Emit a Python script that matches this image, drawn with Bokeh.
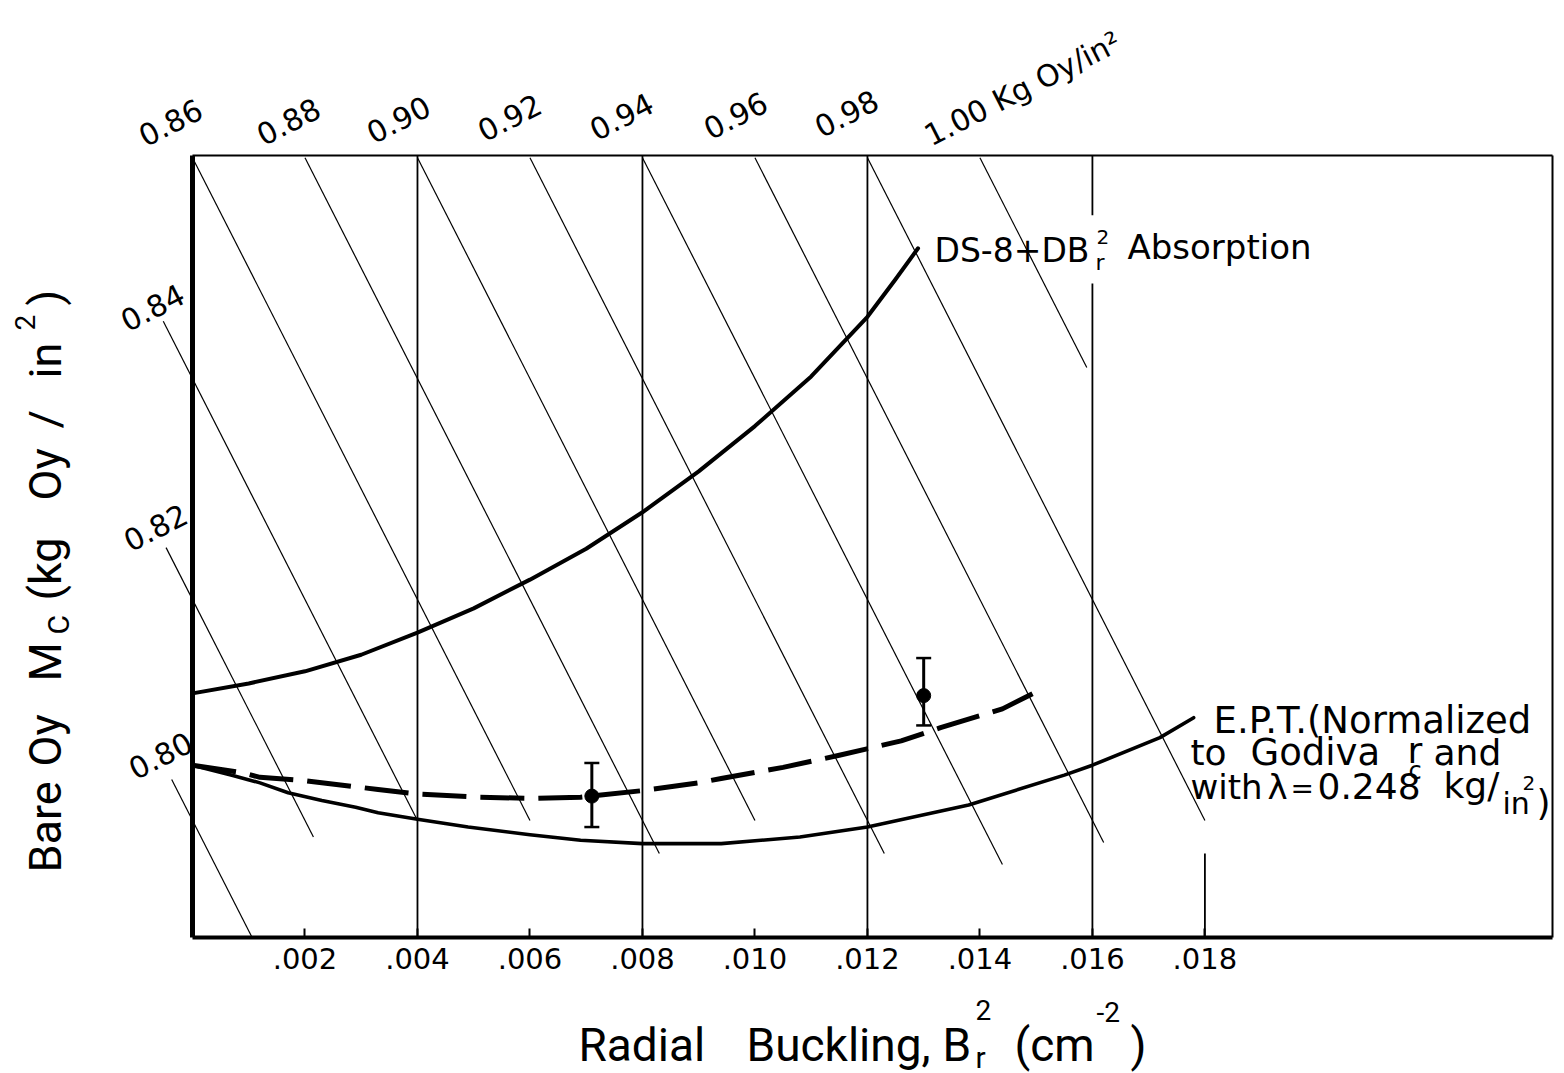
import math
from bokeh.plotting import figure
from bokeh.models import Range1d, Label, FixedTicker, Whisker, TeeHead, ColumnDataSource, LinearAxis
from bokeh.embed import file_html
from bokeh.resources import INLINE

# ---------------- data ----------------
# DS-8 + D B_r^2 absorption curve
ds8_x = [0.0, 0.001, 0.002, 0.003, 0.004, 0.005, 0.006, 0.007, 0.008, 0.009,
         0.010, 0.011, 0.012, 0.0125, 0.0129]
ds8_y = [0.8115, 0.8124, 0.8135, 0.8150, 0.8170, 0.8192, 0.8218, 0.8246, 0.8279,
         0.8316, 0.8357, 0.8402, 0.8456, 0.8490, 0.8518]

# E.P.T. curve (solid, lower)
ept_x = [0.0, 0.0007, 0.0012, 0.0017, 0.0023, 0.0029, 0.0033, 0.0040, 0.0049, 0.0060,
         0.0069, 0.0080, 0.0090, 0.0094, 0.0108, 0.0120, 0.0138, 0.0155, 0.0160,
         0.0172, 0.0178]
ept_y = [0.8050, 0.8041, 0.8034, 0.8025, 0.8018, 0.8012, 0.8007, 0.8001, 0.7994, 0.7987,
         0.7982, 0.7979, 0.7979, 0.7979, 0.7985, 0.7994, 0.8014, 0.8041, 0.8050,
         0.8075, 0.8093]

# dashed curve through the experimental points
exp_x = [0.0, 0.0009, 0.0012, 0.0020, 0.0033, 0.0040, 0.0051, 0.0060, 0.0069, 0.0080,
         0.0090, 0.0094, 0.0105, 0.0115, 0.0126, 0.0133, 0.0144, 0.0151]
exp_y = [0.8050, 0.8043, 0.8039, 0.8036, 0.8028, 0.8024, 0.8021, 0.8020, 0.8021, 0.8027,
         0.8034, 0.8038, 0.8048, 0.8059, 0.8072, 0.8084, 0.8101, 0.8119]

# experimental points with error bars
pts_x = [0.0071, 0.0130]
pts_y = [0.8022, 0.8113]
pts_hi = [0.8052, 0.8147]
pts_lo = [0.7994, 0.8086]

# lines of constant loading (kg Oy/in^2): start and end points
iso_labels = ["0.80", "0.82", "0.84", "0.86", "0.88", "0.90", "0.92", "0.94", "0.96", "0.98", "1.00"]
iso_x0 = [-0.00037, -0.00047, -0.00052, 0.0, 0.002, 0.004, 0.006, 0.008, 0.010, 0.012, 0.014]
iso_y0 = [0.8037, 0.8247, 0.8452, 0.8600, 0.8600, 0.8600, 0.8600, 0.8600, 0.8600, 0.8600, 0.8600]
iso_x1 = [0.00106, 0.00215, 0.0040, 0.0060, 0.0083, 0.0100, 0.0123, 0.0144, 0.0162, 0.0180, 0.0159]
iso_y1 = [0.7894, 0.7985, 0.8000, 0.8000, 0.7970, 0.8000, 0.7970, 0.7960, 0.7980, 0.8000, 0.8410]

# x ticks
tick_vals = [0.002, 0.004, 0.006, 0.008, 0.010, 0.012, 0.014, 0.016, 0.018]
tick_labels = [".002", ".004", ".006", ".008", ".010", ".012", ".014", ".016", ".018"]

# chart box (data extent of the drawn frame)
BX0, BX1 = 0.0, 0.02418
BY0, BY1 = 0.7894, 0.8602

# ---------------- layout ----------------
W, H = 1564, 1073
BOX_L, BOX_R, BOX_T, BOX_B = 192, 1552, 155, 937   # where the box sits on the canvas
sx = (BOX_R - BOX_L) / (BX1 - BX0)
sy = (BOX_B - BOX_T) / (BY1 - BY0)
X0 = BX0 - BOX_L / sx
X1 = BX0 + (W - BOX_L) / sx
Y1 = BY1 + BOX_T / sy
Y0 = BY1 - (H - BOX_T) / sy
FONT = "DejaVu Sans"
TFONT = "Roboto"

p = figure(width=W, height=H, x_range=Range1d(X0, X1), y_range=Range1d(Y0, Y1),
           output_backend="svg", toolbar_location=None,
           x_axis_location=None, y_axis_location=None,
           min_border_left=0, min_border_right=0, min_border_top=0, min_border_bottom=0)
p.outline_line_color = None
p.background_fill_color = "white"
p.border_fill_color = "white"
p.xgrid.visible = False
p.ygrid.visible = False

ax = LinearAxis(fixed_location=BY0)
ax.ticker = FixedTicker(ticks=tick_vals)
ax.major_label_overrides = {v: s for v, s in zip(tick_vals, tick_labels)}
ax.axis_line_color = None
ax.major_tick_in = 9
ax.major_tick_out = 0
ax.major_tick_line_width = 2
ax.major_tick_line_color = "black"
ax.minor_tick_line_color = None
ax.major_label_text_font = FONT
ax.major_label_text_font_size = "29px"
ax.major_label_text_color = "black"
ax.major_label_standoff = 10
p.add_layout(ax, "below")

# vertical grid lines (0.016 broken under the label, 0.018 only partial)
grid_x = [0.004, 0.008, 0.012, 0.016, 0.016, 0.018]
grid_y0 = [BY0, BY0, BY0, BY0, 0.8548, BY0]
grid_y1 = [BY1, BY1, BY1, 0.8486, BY1, 0.7970]
p.segment(x0=grid_x, y0=grid_y0, x1=grid_x, y1=grid_y1, line_color="black", line_width=1.8)

# constant-loading diagonal lines
p.segment(x0=iso_x0, y0=iso_y0, x1=iso_x1, y1=iso_y1, line_color="black", line_width=1.2)

# chart box
p.segment(x0=[BX0], y0=[BY0], x1=[BX0], y1=[BY1], line_color="black", line_width=5)
p.segment(x0=[BX0], y0=[BY0], x1=[BX1], y1=[BY0], line_color="black", line_width=4)
p.segment(x0=[BX0], y0=[BY1], x1=[BX1], y1=[BY1], line_color="black", line_width=2)
p.segment(x0=[BX1], y0=[BY0], x1=[BX1], y1=[BY1], line_color="black", line_width=2)

# curves
p.line(ds8_x, ds8_y, line_color="black", line_width=4, line_join="round", line_cap="round")
p.line(ept_x, ept_y, line_color="black", line_width=3.6, line_join="round", line_cap="round")
p.line(exp_x, exp_y, line_color="black", line_width=5, line_dash="44 14", line_join="round")

# experimental points
src = ColumnDataSource(dict(x=pts_x, lo=pts_lo, hi=pts_hi))
w = Whisker(base="x", upper="hi", lower="lo", source=src, line_width=3, line_color="black",
            upper_head=TeeHead(size=15, line_width=2.5, line_color="black"),
            lower_head=TeeHead(size=15, line_width=2.5, line_color="black"))
p.add_layout(w)
p.scatter(pts_x, pts_y, size=14, color="black")


def lab_c(text, px, py, size, font=FONT, align="center", angle=0.0):
    """label anchored at its vertical middle"""
    p.add_layout(Label(x=px, y=py, x_units="canvas", y_units="canvas", text=text,
                       text_font=font, text_font_size=f"{size}px", text_color="black",
                       text_align=align, text_baseline="middle", angle=angle))


def lab(text, px, base_y, size, font=FONT):
    """left aligned label given its baseline"""
    lab_c(text, px, base_y - 0.35 * size, size, font=font, align="left")


# labels of the diagonal lines
ang = math.radians(27)
top_pos = [(170, 122), (288, 121), (398, 119), (509, 117), (621, 116), (735, 115), (846, 113)]
for t, (px, py) in zip(iso_labels[3:10], top_pos):
    lab_c(t, px, py, 30, angle=ang)
lab_c("1.00 Kg Oy/in\u00b2", 926, 137, 30, align="left", angle=ang)
left_pos = [(160, 755), (155, 527), (152, 307)]
for t, (px, py) in zip(iso_labels[0:3], left_pos):
    lab_c(t, px, py, 30, angle=ang)

# curve labels
lab("DS-8+DB", 934, 262, 33)
lab("2", 1096, 243, 20)
lab("r", 1095, 270, 22)
lab("Absorption", 1127, 258, 34)

lab("E.P.T.(Normalized", 1213, 733, 37)
lab("to", 1190, 765, 36)
lab("Godiva", 1250, 765, 37)
lab("r", 1407, 763, 36)
lab("c", 1408, 779, 24)
lab("and", 1433, 765, 36)
lab("with", 1190, 798, 34)
lab("\u03bb", 1267, 798, 34)
lab("=", 1290, 798, 28)
lab("0.248", 1317, 798, 36)
lab("kg/", 1443, 798, 36)
lab("in", 1502, 813, 30)
lab("2", 1522, 789, 20)
lab(")", 1536, 815, 36)

# x axis title
lab("Radial", 578, 1061, 46, font=TFONT)
lab("Buckling,", 746, 1061, 46, font=TFONT)
lab("B", 942, 1061, 46, font=TFONT)
lab("2", 975, 1019, 28, font=TFONT)
lab("r", 975, 1067, 30, font=TFONT)
lab("(cm", 1014, 1061, 46, font=TFONT)
lab("-2", 1096, 1021, 28, font=TFONT)
lab(")", 1130, 1061, 46, font=TFONT)

# y axis title (rotated)
va = math.pi / 2
for t, py in [("Bare", 872), ("Oy", 766), ("M", 681), ("(kg", 600), ("Oy", 500),
              ("/", 428), ("in", 378), (")", 305)]:
    lab_c(t, 45, py, 45, font=TFONT, align="left", angle=va)
lab_c("C", 58, 634, 30, font=TFONT, align="left", angle=va)
lab_c("2", 24, 330, 28, font=TFONT, align="left", angle=va)

open("out.html", "w").write(file_html(p, INLINE))
